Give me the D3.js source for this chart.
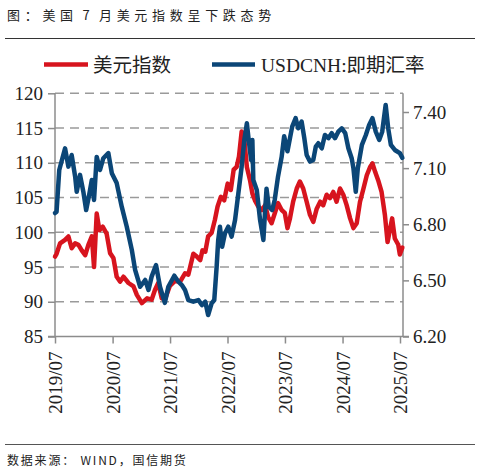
<!DOCTYPE html>
<html><head><meta charset="utf-8">
<script src="https://cdn.jsdelivr.net/npm/d3@7"></script>
<style>
html,body{margin:0;padding:0;background:#fff;}
svg{display:block;}
</style></head>
<body>
<svg id="chart" width="481" height="473"></svg>
<script>
// ---- DATA ----
const titleText = "图：美国 7 月美元指数呈下跌态势";
const sourceText = "数据来源： WIND，国信期货";
const seriesNames = ["美元指数", "USDCNH:即期汇率"];
const xTickLabels = ["2019/07","2020/07","2021/07","2022/07","2023/07","2024/07","2025/07"];
const leftTicks = [85, 90, 95, 100, 105, 110, 115, 120];
const rightTicks = [6.20, 6.50, 6.80, 7.10, 7.40];

const dxyDates = ["2019-07-01","2019-07-11","2019-08-02","2019-09-03","2019-09-24","2019-10-15","2019-11-06","2019-11-27","2019-12-18","2020-01-09","2020-01-29","2020-02-20","2020-03-05","2020-03-22","2020-04-08","2020-04-29","2020-05-24","2020-06-15","2020-07-06","2020-07-27","2020-08-18","2020-09-08","2020-10-10","2020-11-11","2020-12-02","2021-01-03","2021-02-05","2021-03-06","2021-03-27","2021-04-17","2021-05-09","2021-05-29","2021-06-30","2021-08-02","2021-09-03","2021-10-04","2021-10-25","2021-11-26","2021-12-18","2022-01-09","2022-01-23","2022-02-10","2022-02-28","2022-03-22","2022-04-12","2022-04-29","2022-05-20","2022-06-10","2022-07-02","2022-07-22","2022-08-09","2022-08-28","2022-09-12","2022-09-29","2022-10-16","2022-11-01","2022-11-21","2022-12-06","2022-12-22","2023-01-13","2023-02-05","2023-02-25","2023-03-16","2023-04-07","2023-04-27","2023-05-18","2023-06-10","2023-06-30","2023-07-17","2023-08-02","2023-08-22","2023-09-14","2023-10-04","2023-10-25","2023-11-16","2023-12-07","2023-12-28","2024-01-19","2024-02-10","2024-02-29","2024-03-22","2024-04-12","2024-05-03","2024-05-24","2024-06-15","2024-07-06","2024-07-27","2024-08-18","2024-09-08","2024-09-29","2024-10-20","2024-11-11","2024-12-02","2024-12-23","2025-01-07","2025-01-24","2025-02-15","2025-03-06","2025-03-27","2025-04-13","2025-04-30","2025-05-12","2025-05-29","2025-06-20","2025-06-30","2025-07-16"];
const dxyValues = [96.5,96.9,98.4,98.9,99.4,97.7,98.4,98.2,97.4,96.7,98.2,99.4,95.0,102.7,100.3,100.8,99.8,97.0,96.3,93.6,92.9,93.6,92.7,92.2,91.0,89.8,90.5,90.3,91.7,92.7,90.5,90.3,92.3,93.0,92.9,94.1,93.9,96.9,96.5,96.0,97.4,97.2,99.4,99.9,101.8,103.7,105.1,104.6,107.0,106.1,109.0,109.4,110.9,114.5,113.3,109.4,107.5,105.6,104.6,103.7,103.2,103.9,102.2,101.3,102.7,104.2,103.2,102.8,100.6,102.0,104.4,106.3,107.3,106.3,104.4,102.5,101.5,103.4,104.4,103.9,105.4,104.9,105.8,104.4,106.3,105.4,103.9,102.0,100.6,101.3,104.4,106.3,108.2,109.4,109.9,108.7,107.3,105.8,102.5,98.6,100.6,102.0,99.1,98.2,96.8,97.8];

const cnhDates = ["2019-07-01","2019-07-11","2019-07-28","2019-09-03","2019-09-24","2019-10-15","2019-11-06","2019-11-16","2019-12-07","2019-12-28","2020-01-15","2020-02-05","2020-02-20","2020-03-05","2020-03-22","2020-04-12","2020-05-03","2020-06-04","2020-06-26","2020-07-27","2020-08-28","2020-09-29","2020-10-31","2020-11-21","2020-12-23","2021-01-24","2021-02-14","2021-03-06","2021-04-03","2021-04-28","2021-05-29","2021-06-20","2021-07-28","2021-08-23","2021-09-14","2021-10-04","2021-10-25","2021-11-26","2021-12-28","2022-01-19","2022-02-10","2022-02-28","2022-03-22","2022-04-08","2022-04-23","2022-05-03","2022-05-14","2022-05-28","2022-06-15","2022-07-06","2022-07-27","2022-08-18","2022-09-08","2022-09-29","2022-10-16","2022-11-01","2022-11-15","2022-11-28","2022-12-06","2022-12-12","2023-01-03","2023-01-24","2023-02-14","2023-02-25","2023-03-06","2023-03-20","2023-04-11","2023-04-27","2023-05-18","2023-06-10","2023-06-26","2023-07-17","2023-08-02","2023-08-16","2023-09-07","2023-09-23","2023-10-15","2023-11-01","2023-11-16","2023-12-07","2023-12-28","2024-01-13","2024-01-29","2024-02-20","2024-03-11","2024-04-02","2024-04-23","2024-05-14","2024-06-04","2024-06-26","2024-07-18","2024-08-07","2024-08-28","2024-09-08","2024-09-23","2024-10-06","2024-11-01","2024-11-26","2024-12-17","2025-01-07","2025-01-28","2025-02-19","2025-03-10","2025-04-01","2025-04-17","2025-05-04","2025-05-29","2025-06-30","2025-07-16"];
const cnhValues = [6.86,6.867,7.09,7.206,7.108,7.17,7.055,6.974,7.064,6.974,6.876,6.966,7.037,6.93,7.16,7.09,7.153,7.18,7.073,7.02,6.894,6.787,6.663,6.556,6.466,6.502,6.449,6.52,6.582,6.466,6.38,6.466,6.525,6.493,6.475,6.449,6.395,6.386,6.395,6.368,6.386,6.315,6.377,6.395,6.573,6.716,6.787,6.68,6.752,6.787,6.734,6.823,6.966,7.108,7.251,7.34,7.233,7.144,7.25,7.037,6.983,6.823,6.716,6.876,6.99,6.894,6.876,6.93,7.055,7.16,7.27,7.19,7.26,7.322,7.367,7.313,7.349,7.26,7.17,7.135,7.144,7.215,7.233,7.206,7.277,7.26,7.287,7.26,7.295,7.313,7.287,7.206,7.153,7.1,6.974,7.1,7.224,7.277,7.331,7.367,7.295,7.251,7.295,7.438,7.313,7.224,7.197,7.18,7.155];

// ---- CHART ----
const svg = d3.select("#chart");
const parse = d3.timeParse("%Y-%m-%d");
const red = "#d7141e", blue = "#0b4677";
const serif = "'Liberation Serif','Noto Sans CJK SC',serif";
const cjk = "'Noto Sans CJK SC',sans-serif";

const plot = {left: 55, right: 403, top: 93.3, bottom: 336.5};

const x = d3.scaleTime()
  .domain([parse("2019-07-01"), parse("2025-07-01")])
  .range([55, 400]);
const yL = d3.scaleLinear().domain([85, 120]).range([plot.bottom, plot.top]);
const yR = d3.scaleLinear().domain([6.2, 7.5]).range([plot.bottom, plot.top]);

// title & rules
svg.append("text").attr("x", 7).attr("y", 20)
  .attr("font-family", cjk).attr("font-size", 13).attr("letter-spacing", 4.7)
  .attr("word-spacing", -3)
  .attr("fill", "#222").text(titleText);
svg.append("line").attr("x1", 5).attr("x2", 475).attr("y1", 38.5).attr("y2", 38.5)
  .attr("stroke", "#333").attr("stroke-width", 1);
svg.append("line").attr("x1", 5).attr("x2", 475).attr("y1", 444.5).attr("y2", 444.5)
  .attr("stroke", "#555").attr("stroke-width", 1);
svg.append("text").attr("x", 7).attr("y", 465)
  .attr("font-family", cjk).attr("font-size", 12).attr("letter-spacing", 1.8)
  .attr("fill", "#222").text(sourceText);

// legend
const legend = [
  {name: seriesNames[0], color: red, x1: 44, x2: 88, tx: 93},
  {name: seriesNames[1], color: blue, x1: 212, x2: 255, tx: 261}
];
legend.forEach(d => {
  svg.append("line").attr("x1", d.x1).attr("x2", d.x2).attr("y1", 64.5).attr("y2", 64.5)
    .attr("stroke", d.color).attr("stroke-width", 4.5);
  svg.append("text").attr("x", d.tx).attr("y", 71.5)
    .attr("font-family", serif).attr("font-size", 19.5).attr("fill", "#222").text(d.name);
});

// gridlines
svg.append("g").selectAll("line").data(leftTicks.filter(v => v > 85)).join("line")
  .attr("x1", plot.left).attr("x2", plot.right)
  .attr("y1", d => yL(d)).attr("y2", d => yL(d))
  .attr("stroke", "#9a9a9a").attr("stroke-width", 1.5).attr("stroke-dasharray", "9,6");

// axes
const axisColor = "#8c8c8c";
const gL = svg.append("g").attr("transform", `translate(${plot.left},0)`)
  .call(d3.axisLeft(yL).tickValues(leftTicks).tickSize(7).tickPadding(5).tickFormat(d3.format("d")));
const gR = svg.append("g").attr("transform", `translate(${plot.right},0)`)
  .call(d3.axisRight(yR).tickValues(rightTicks).tickSize(6).tickPadding(4).tickFormat(d3.format(".2f")));
const xTickDates = xTickLabels.map(s => d3.timeParse("%Y/%m")(s));
const gX = svg.append("g").attr("transform", `translate(0,${plot.bottom})`)
  .call(d3.axisBottom(x).tickValues(xTickDates).tickSize(7).tickFormat((d, i) => xTickLabels[i]));
gX.selectAll("text")
  .attr("transform", "rotate(-90)")
  .attr("text-anchor", "end")
  .attr("x", -15).attr("y", 0).attr("dy", "0.35em");
gX.select(".domain").attr("d", `M${plot.left - 7},0H${plot.right + 6}`);
gL.select(".domain").attr("d", `M0,${plot.bottom}V${plot.top}`);
gR.select(".domain").attr("d", `M0,${plot.bottom}V${plot.top}`);
[gL, gR, gX].forEach(g => {
  g.selectAll(".domain").attr("stroke", axisColor).attr("stroke-width", 1.5);
  g.selectAll(".tick line").attr("stroke", axisColor).attr("stroke-width", 1.5);
  g.selectAll("text").attr("font-family", serif).attr("font-size", 19).attr("fill", "#222");
});

// series
const dxy = dxyDates.map((d, i) => ({date: parse(d), v: dxyValues[i]}));
const cnh = cnhDates.map((d, i) => ({date: parse(d), v: cnhValues[i]}));
svg.append("path").datum(dxy)
  .attr("d", d3.line().x(d => x(d.date)).y(d => yL(d.v)))
  .attr("fill", "none").attr("stroke", red).attr("stroke-width", 4.5)
  .attr("stroke-linejoin", "round").attr("stroke-linecap", "round");
svg.append("path").datum(cnh)
  .attr("d", d3.line().x(d => x(d.date)).y(d => yR(d.v)))
  .attr("fill", "none").attr("stroke", blue).attr("stroke-width", 4.5)
  .attr("stroke-linejoin", "round").attr("stroke-linecap", "round");
</script>
</body></html>
